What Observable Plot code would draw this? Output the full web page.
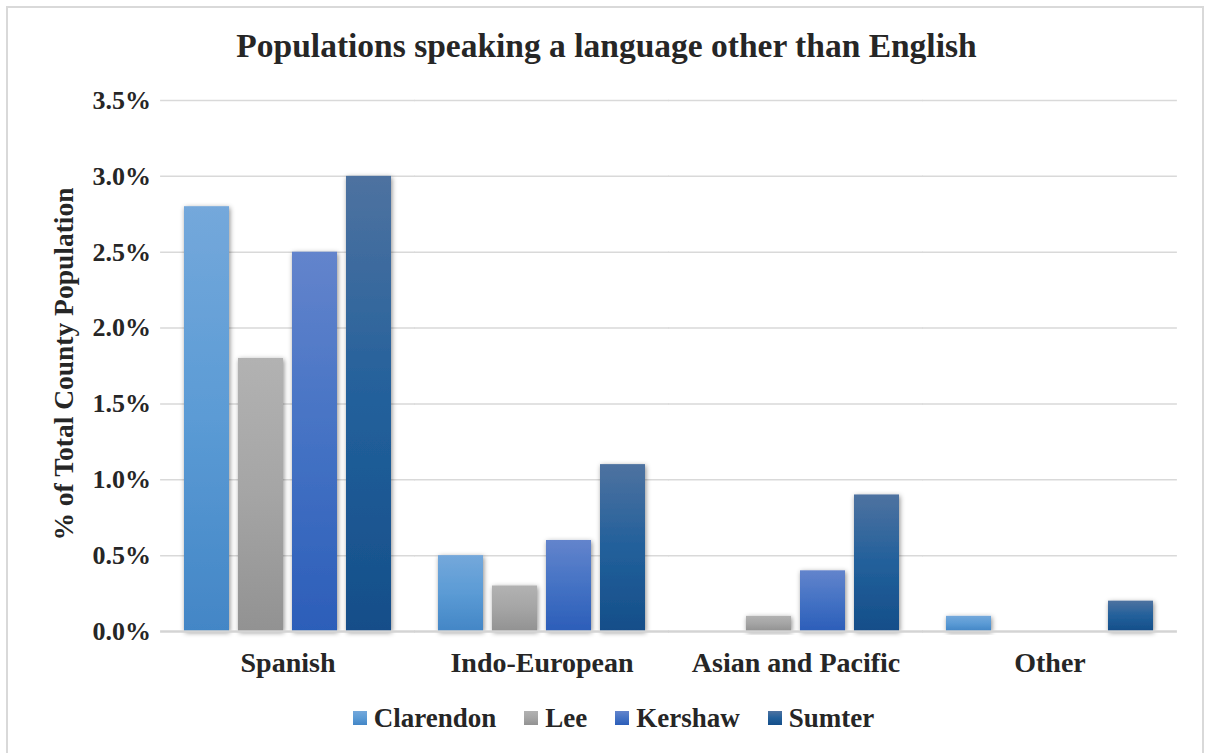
<!DOCTYPE html>
<html>
<head>
<meta charset="utf-8">
<script src="https://cdn.jsdelivr.net/npm/d3@7"></script>
<script src="https://cdn.jsdelivr.net/npm/@observablehq/plot@0.6"></script>
<style>
  html, body { margin: 0; padding: 0; background: #fff; }
  body { width: 1207px; height: 753px; position: relative; overflow: hidden;
         font-family: "Liberation Serif", "Times New Roman", serif; font-weight: bold; color: #262626; }
  #frame { position: absolute; left: 6px; top: 6px; width: 1198px; height: 800px;
           border: 2px solid #d9d9d9; box-sizing: border-box; }
  #title { position: absolute; left: 3px; top: 29px; width: 1207px; text-align: center;
           font-size: 33.5px; line-height: 33.5px; white-space: nowrap; }
  #ytitle { position: absolute; left: 64px; top: 364px; font-size: 27.5px; line-height: 27.5px;
            white-space: nowrap; transform: translate(-50%, -50%) rotate(-90deg); }
  #chart { position: absolute; left: 0; top: 0; }
  #legend { position: absolute; left: 0; top: 703px; width: 1227px; display: flex; justify-content: center;
            align-items: center; font-size: 27px; line-height: 30px; font-family: "Liberation Serif", serif; }
  .item { display: flex; align-items: center; margin: 0 14px; }
  .sw { width: 14px; height: 14px; margin-right: 7px; }
</style>
</head>
<body>
<div id="frame"></div>
<div id="title">Populations speaking a language other than English</div>
<div id="chart"></div>
<div id="ytitle">% of Total County Population</div>
<div id="legend"></div>
<script>
// ---- data ----
const categories = ["Spanish", "Indo-European", "Asian and Pacific", "Other"];
const counties = ["Clarendon", "Lee", "Kershaw", "Sumter"];
const clarendon = [2.8, 0.5, 0, 0.1];
const lee = [1.8, 0.3, 0.1, 0];
const kershaw = [2.5, 0.6, 0.4, 0];
const sumter = [3.0, 1.1, 0.9, 0.2];
const yTicks = [0, 0.5, 1.0, 1.5, 2.0, 2.5, 3.0, 3.5];
// gradient colours (top, middle, bottom) per county
const gradients = [
  ["#74a8db", "#5b9bd5", "#4386c6"],
  ["#b2b2b2", "#a5a5a5", "#929292"],
  ["#6384cc", "#4472c4", "#2c5eb9"],
  ["#4e72a0", "#22609b", "#154e89"]
];

const seriesValues = [clarendon, lee, kershaw, sumter];
const rows = [];
categories.forEach((cat, i) => {
  counties.forEach((c, j) => rows.push({category: cat, county: c, value: seriesValues[j][i]}));
});

const fmt = v => v.toFixed(1) + "%";
const serif = "'Liberation Serif', 'Times New Roman', serif";

// facet band geometry (style): inner padding of the category bands
const fxPadInner = 0.176, fxPadOuter = 0.088;
const plotW = 1207, mL = 160, mR = 29;
const fxStep = (plotW - mL - mR) / (categories.length - fxPadInner + 2 * fxPadOuter);
const outerGap = fxStep * fxPadOuter;
const gridExtend = -(fxStep * fxPadInner / 2 + 0.5);

const chart = Plot.plot({
  width: plotW,
  height: 680,
  marginTop: 100,
  marginBottom: 49,
  marginLeft: mL,
  marginRight: mR,
  style: {fontFamily: serif, fontWeight: "bold", color: "#262626", background: "transparent", overflow: "visible"},
  fx: {domain: categories, paddingInner: fxPadInner, paddingOuter: fxPadOuter, label: null},
  x: {domain: counties, paddingInner: 0.16, paddingOuter: 0, axis: null},
  y: {domain: [0, 3.5], label: null},
  color: {domain: counties, range: counties.map((c, i) => `url(#grad${i})`)},
  marks: [
    Plot.ruleY(yTicks.filter(v => v > 0), {stroke: "#d9d9d9", strokeWidth: 1.5, insetLeft: gridExtend, insetRight: gridExtend}),
    Plot.barY(rows.filter(d => d.value > 0), {fx: "category", x: "county", y: "value", fill: "county"}),
    Plot.ruleY([0], {stroke: "#d4d4d4", strokeWidth: 2.5, insetLeft: gridExtend, insetRight: gridExtend}),
    Plot.axisY({ticks: yTicks, tickFormat: fmt, tickSize: 0, tickPadding: 10 + outerGap, fontSize: 26, fontFamily: serif, label: null}),
    Plot.axisFx({anchor: "bottom", tickSize: 0, tickPadding: 21, fontSize: 28, fontFamily: serif, label: null})
  ]
});

const svg = d3.select(chart);
const defs = svg.insert("defs", ":first-child");
gradients.forEach((g, i) => {
  const lg = defs.append("linearGradient").attr("id", `grad${i}`).attr("x1", 0).attr("y1", 0).attr("x2", 0).attr("y2", 1);
  lg.append("stop").attr("offset", "0%").attr("stop-color", g[0]);
  lg.append("stop").attr("offset", "50%").attr("stop-color", g[1]);
  lg.append("stop").attr("offset", "100%").attr("stop-color", g[2]);
});
const f = defs.append("filter").attr("id", "shadow").attr("x", "-50%").attr("y", "-20%").attr("width", "200%").attr("height", "140%");
f.append("feDropShadow").attr("dx", 1).attr("dy", 1.5).attr("stdDeviation", 2.5).attr("flood-color", "#000").attr("flood-opacity", 0.45);
svg.selectAll("g[aria-label='bar'] rect").attr("filter", "url(#shadow)");

document.getElementById("chart").appendChild(chart);

// legend
const legend = d3.select("#legend");
counties.forEach((c, i) => {
  const it = legend.append("div").attr("class", "item");
  it.append("div").attr("class", "sw")
    .style("background", `linear-gradient(${gradients[i][0]}, ${gradients[i][1]}, ${gradients[i][2]})`);
  it.append("span").text(c);
});
</script>
</body>
</html>
